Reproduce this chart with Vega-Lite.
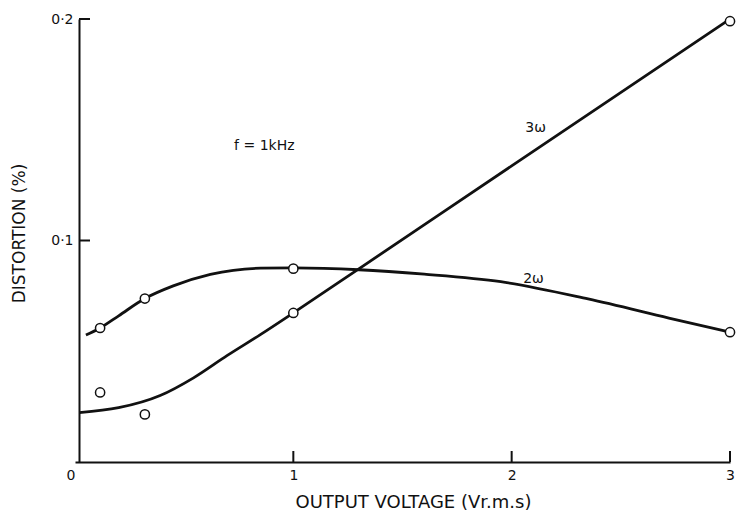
{
  "$schema": "https://vega.github.io/schema/vega-lite/v6.json",
  "width": 655,
  "height": 443,
  "autosize": {"type": "none"},
  "padding": {"left": 75, "top": 19, "right": 7, "bottom": 52},
  "background": "white",
  "config": {"view": {"stroke": null}, "font": "DejaVu Sans"},
  "datasets": {
    "curves": [
      {"harmonic": "2ω", "voltage": 0.05, "distortion": 0.0573},
      {"harmonic": "2ω", "voltage": 0.115, "distortion": 0.0605},
      {"harmonic": "2ω", "voltage": 0.2, "distortion": 0.066},
      {"harmonic": "2ω", "voltage": 0.32, "distortion": 0.0738},
      {"harmonic": "2ω", "voltage": 0.45, "distortion": 0.0795},
      {"harmonic": "2ω", "voltage": 0.62, "distortion": 0.0847},
      {"harmonic": "2ω", "voltage": 0.85, "distortion": 0.0875},
      {"harmonic": "2ω", "voltage": 1.0, "distortion": 0.0876},
      {"harmonic": "2ω", "voltage": 1.3, "distortion": 0.0868},
      {"harmonic": "2ω", "voltage": 1.6, "distortion": 0.0848},
      {"harmonic": "2ω", "voltage": 1.95, "distortion": 0.0814},
      {"harmonic": "2ω", "voltage": 2.35, "distortion": 0.0736},
      {"harmonic": "2ω", "voltage": 2.72, "distortion": 0.065},
      {"harmonic": "2ω", "voltage": 3.0, "distortion": 0.0586},
      {"harmonic": "3ω", "voltage": 0.02, "distortion": 0.0223},
      {"harmonic": "3ω", "voltage": 0.2, "distortion": 0.0245},
      {"harmonic": "3ω", "voltage": 0.39, "distortion": 0.03},
      {"harmonic": "3ω", "voltage": 0.543, "distortion": 0.038},
      {"harmonic": "3ω", "voltage": 0.696, "distortion": 0.048},
      {"harmonic": "3ω", "voltage": 0.849, "distortion": 0.0575},
      {"harmonic": "3ω", "voltage": 1.0, "distortion": 0.0673},
      {"harmonic": "3ω", "voltage": 1.3, "distortion": 0.0872},
      {"harmonic": "3ω", "voltage": 2.0, "distortion": 0.1337},
      {"harmonic": "3ω", "voltage": 3.0, "distortion": 0.2}
    ],
    "points": [
      {"harmonic": "2ω", "voltage": 0.115, "distortion": 0.0605},
      {"harmonic": "2ω", "voltage": 0.32, "distortion": 0.0738},
      {"harmonic": "2ω", "voltage": 1.0, "distortion": 0.0873},
      {"harmonic": "2ω", "voltage": 3.0, "distortion": 0.0586},
      {"harmonic": "3ω", "voltage": 0.115, "distortion": 0.0314},
      {"harmonic": "3ω", "voltage": 0.32, "distortion": 0.0215},
      {"harmonic": "3ω", "voltage": 1.0, "distortion": 0.0673},
      {"harmonic": "3ω", "voltage": 3.0, "distortion": 0.199}
    ],
    "labels": [
      {"label": "f = 1kHz", "voltage": 0.867, "distortion": 0.1427},
      {"label": "3ω", "voltage": 2.11, "distortion": 0.151},
      {"label": "2ω", "voltage": 2.1, "distortion": 0.0827}
    ],
    "xticks": [
      {"voltage": 1, "distortion": 0},
      {"voltage": 2, "distortion": 0},
      {"voltage": 3, "distortion": 0}
    ],
    "yticks": [
      {"voltage": 0, "distortion": 0.1},
      {"voltage": 0, "distortion": 0.2}
    ]
  },
  "encoding": {
    "x": {
      "field": "voltage",
      "type": "quantitative",
      "scale": {"domain": [0, 3], "nice": false, "zero": false},
      "axis": {
        "values": [0, 1, 2, 3],
        "title": "OUTPUT VOLTAGE (Vr.m.s)",
        "grid": false,
        "ticks": false,
        "domainColor": "#111",
        "domainWidth": 2,
        "labelAlign": {"condition": {"test": "datum.value == 0", "value": "right"}, "value": "center"},
        "labelFlush": false,
        "labelFontSize": 14,
        "labelPadding": 6,
        "labelColor": "#111",
        "titleFontSize": 18,
        "titleFontWeight": "normal",
        "titleColor": "#111",
        "titleAlign": "left",
        "titleX": 220,
        "titleY": 31,
        "titleBaseline": "top"
      }
    },
    "y": {
      "field": "distortion",
      "type": "quantitative",
      "scale": {"domain": [0, 0.2], "nice": false},
      "axis": {
        "values": [0.1, 0.2],
        "title": "DISTORTION (%)",
        "grid": false,
        "ticks": false,
        "offset": -4,
        "domainColor": "#111",
        "domainWidth": 2,
        "labelExpr": "replace(format(datum.value, '.1f'), '.', '·')",
        "labelFontSize": 14,
        "labelPadding": 6,
        "labelColor": "#111",
        "titleFontSize": 17,
        "titleFontWeight": "normal",
        "titleColor": "#111",
        "titlePadding": 22,
        "titleY": 214
      }
    }
  },
  "layer": [
    {
      "data": {"name": "xticks"},
      "mark": {"type": "tick", "orient": "vertical", "color": "#111", "thickness": 2, "size": 11, "yOffset": -5.5, "opacity": 1}
    },
    {
      "data": {"name": "yticks"},
      "mark": {"type": "tick", "orient": "horizontal", "color": "#111", "thickness": 2, "size": 11, "xOffset": 9.5, "opacity": 1}
    },
    {
      "data": {"name": "curves"},
      "mark": {"type": "line", "interpolate": "monotone", "color": "#111", "strokeWidth": 2.8},
      "encoding": {"detail": {"field": "harmonic"}}
    },
    {
      "data": {"name": "points"},
      "mark": {"type": "point", "shape": "circle", "filled": true, "fill": "white", "stroke": "#111", "strokeWidth": 1.5, "size": 85, "opacity": 1}
    },
    {
      "data": {"name": "labels"},
      "mark": {"type": "text", "fontSize": 14, "color": "#111"},
      "encoding": {"text": {"field": "label"}}
    }
  ]
}
